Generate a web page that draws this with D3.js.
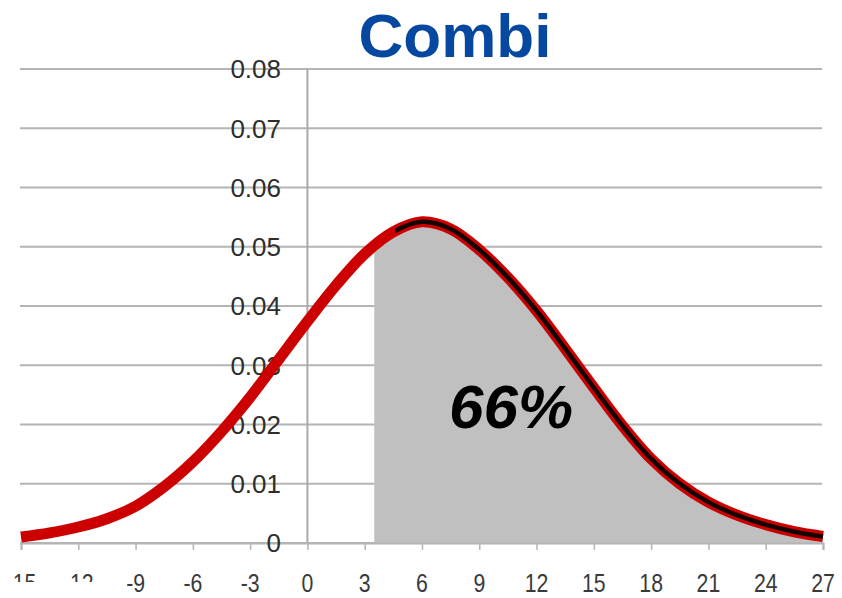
<!DOCTYPE html>
<html>
<head>
<meta charset="utf-8">
<script src="https://cdn.jsdelivr.net/npm/d3@7"></script>
<style>
  body { margin: 0; background: #fff; }
  text { font-family: "Liberation Sans", Arial, sans-serif; }
</style>
</head>
<body>
<div id="chart"></div>
<script>
// values
let xValues = [-15, -13.5, -12, -10.5, -9, -7.5, -6, -4.5, -3, -1.5, 0, 1.5, 3, 4.5, 6, 7.5,
    9, 10.5, 12, 13.5, 15, 16.5, 18, 19.5, 21, 22.5, 24, 25.5, 27];
let densityValues = [0.0010, 0.0017, 0.0027, 0.0041, 0.0062, 0.0095, 0.0137, 0.0188, 0.0246, 0.0310,
    0.0374, 0.0435, 0.0488, 0.0525, 0.0542, 0.0530, 0.0495, 0.0448, 0.0392, 0.0328,
    0.0262, 0.0198, 0.0142, 0.0100, 0.0069, 0.0047, 0.0031, 0.0019, 0.0011];
let xTicks = [-15, -12, -9, -6, -3, 0, 3, 6, 9, 12, 15, 18, 21, 24, 27];
let yTicks = [0, 0.01, 0.02, 0.03, 0.04, 0.05, 0.06, 0.07, 0.08];
let shadeFrom = 3.5;
let blackFrom = 4.6;
let title = "Combi";
let shareLabel = "66%";

let width = 842, height = 598;

let svg = d3.select("#chart").append("svg")
    .attr("width", width)
    .attr("height", height);

let xScale = d3.scaleLinear().domain([-15, 27]).range([21, 823]);
let yScale = d3.scaleLinear().domain([0, 0.08]).range([543, 69]);

let data = xValues.map(function (x, i) {
    return {x: x, y: densityValues[i]};
});

// clip regions for shaded part and black line
let defs = svg.append("defs");
defs.append("clipPath").attr("id", "shadeClip")
    .append("rect")
    .attr("x", xScale(shadeFrom)).attr("y", 0)
    .attr("width", width).attr("height", yScale(0));
defs.append("clipPath").attr("id", "blackClip")
    .append("rect")
    .attr("x", xScale(blackFrom)).attr("y", 0)
    .attr("width", width).attr("height", height);

// horizontal gridlines
svg.append("g")
    .selectAll("line")
    .data(yTicks)
    .enter().append("line")
    .attr("x1", 20)
    .attr("x2", 822)
    .attr("y1", d => yScale(d))
    .attr("y2", d => yScale(d))
    .attr("stroke", "#b4b4b4")
    .attr("stroke-width", 2);

// shaded area
let area = d3.area()
    .curve(d3.curveCatmullRom)
    .x(d => xScale(d.x))
    .y0(yScale(0))
    .y1(d => yScale(d.y));

svg.append("path")
    .datum(data)
    .attr("clip-path", "url(#shadeClip)")
    .attr("fill", "#c0c0c0")
    .attr("d", area);

// vertical axis line at x = 0
svg.append("line")
    .attr("x1", xScale(0)).attr("x2", xScale(0))
    .attr("y1", yScale(0.08)).attr("y2", yScale(0))
    .attr("stroke", "#aaaaaa")
    .attr("stroke-width", 2);

// x axis
let xAxis = d3.axisBottom(xScale)
    .tickValues(xTicks)
    .tickSize(7)
    .tickFormat("");

let xAxisG = svg.append("g")
    .attr("transform", "translate(0," + yScale(0) + ")")
    .call(xAxis);
xAxisG.select(".domain").attr("stroke", "#b4b4b4").attr("stroke-width", 2);
xAxisG.selectAll(".tick line").attr("stroke", "#b4b4b4").attr("stroke-width", 1.5);

svg.append("g")
    .selectAll("text")
    .data(xTicks)
    .enter().append("text")
    .attr("transform", d => "translate(" + xScale(d) + ",592) scale(0.85,1)")
    .attr("text-anchor", "middle")
    .attr("font-size", 25)
    .attr("fill", "#3a3a3a")
    .text(d => d);

// the first two labels are mostly hidden in the reference
svg.append("rect")
    .attr("x", 0).attr("y", 582)
    .attr("width", 105).attr("height", 16)
    .attr("fill", "#fff");

// y labels
svg.append("g")
    .selectAll("text")
    .data(yTicks)
    .enter().append("text")
    .attr("x", 281)
    .attr("y", d => yScale(d))
    .attr("dy", "0.36em")
    .attr("text-anchor", "end")
    .attr("font-size", 26)
    .attr("fill", "#2e2e2e")
    .text(d => d === 0 ? "0" : d3.format(".2f")(d));

// curve
let line = d3.line()
    .curve(d3.curveCatmullRom)
    .x(d => xScale(d.x))
    .y(d => yScale(d.y));

svg.append("path")
    .datum(data)
    .attr("fill", "none")
    .attr("stroke", "#cc0000")
    .attr("stroke-width", 11)
    .attr("stroke-linejoin", "round")
    .attr("d", line);

svg.append("path")
    .datum(data)
    .attr("clip-path", "url(#blackClip)")
    .attr("fill", "none")
    .attr("stroke", "#150000")
    .attr("stroke-width", 4.5)
    .attr("stroke-linejoin", "round")
    .attr("d", line);

// share label
svg.append("text")
    .attr("x", 511)
    .attr("y", 428)
    .attr("text-anchor", "middle")
    .attr("font-size", 62)
    .attr("font-weight", "bold")
    .attr("font-style", "italic")
    .attr("fill", "#000")
    .text(shareLabel);

// title
svg.append("text")
    .attr("x", 455)
    .attr("y", 57)
    .attr("text-anchor", "middle")
    .attr("font-size", 62)
    .attr("font-weight", "bold")
    .attr("fill", "#0648a0")
    .text(title);
</script>
</body>
</html>
